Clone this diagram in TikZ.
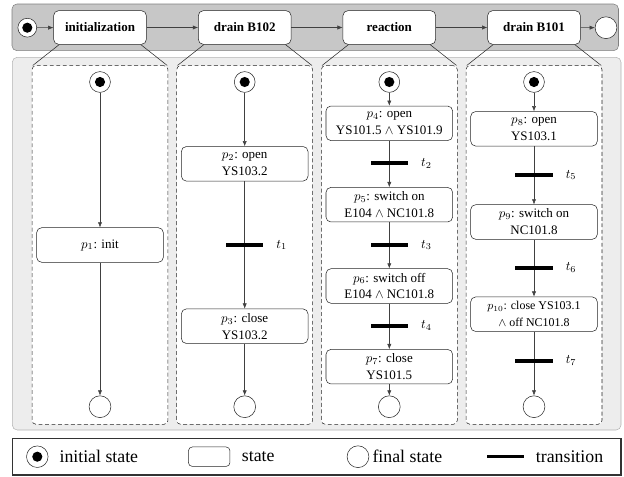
\documentclass[tikz,border=0pt]{standalone}
\usepackage{fontspec}
\setmainfont{Liberation Serif}
\usetikzlibrary{arrows.meta}

\begin{document}
\begin{tikzpicture}[x=0.77pt,y=-0.77pt,
	font=\fontsize{10}{13}\selectfont,
	phase/.style={draw=black!85,fill=white,rounded corners=3.8pt,minimum width=71.4pt,minimum height=25.9pt,inner sep=0pt,font=\bfseries},
	place/.style={draw=black!85,fill=white,rounded corners=3.8pt,minimum width=97.5pt,minimum height=26.6pt,inner sep=0pt,align=center},
	start/.style={circle,draw=black!85,fill=white,minimum size=16pt,inner sep=0pt,path picture={\fill[black] (path picture bounding box.center) circle (3.9pt);}},
	stop/.style={circle,draw=black!85,fill=white,minimum size=16.8pt,inner sep=0pt},
	trans/.style={fill=black,minimum width=28.5pt,minimum height=2.8pt,inner sep=0pt,label={[label distance=6.5pt]right:#1}},
	panel/.style={draw=black!85,dash pattern=on 3pt off 2pt,fill=white,rounded corners=3pt,minimum width=104.7pt,minimum height=276.1pt,inner sep=0pt},
	arr/.style={draw=black!75,-{Latex[length=4pt,width=3.2pt]}},
	legtext/.style={anchor=west,inner sep=0pt,font=\fontsize{13.7}{16}\selectfont}
]
	\useasboundingbox (0,0) rectangle (624,477);
	\filldraw[fill=black!22,draw=black!50,rounded corners=3.8pt] (12,4) rectangle (618.5,50.7);
	\filldraw[fill=black!7,draw=black!30,rounded corners=3.8pt] (12.3,57.3) rectangle (621,430);
	\foreach \c/\name [count=\k] in {100/initialization,244.7/drain B102,389.3/reaction,534/drain B101} {
		\node[panel] (pan\k) at (\c,245) {};
		\node[phase] (ph\k) at (\c,27.5) {\name};
		\draw[black!85] ([xshift=4.5pt]ph\k.south west) -- ([xshift=0.8pt]pan\k.north west);
		\draw[black!85] ([xshift=-4.5pt]ph\k.south east) -- ([xshift=-0.8pt]pan\k.north east);
		\node[start] (s\k) at (\c,82) {};
		\node[stop] (e\k) at (\c,406.7) {};
	}
	\node[start,minimum size=14.5pt] (s0) at (27.3,27.7) {};
	\node[stop] (e0) at (606,27.7) {};
	\foreach \a/\b in {s0/ph1,ph1/ph2,ph2/ph3,ph3/ph4,ph4/e0}
		\draw[arr] (\a) -- (\b);

	\node[place] (p1) at (100,245) {$p_1$: init};
	\draw[arr] (s1) -- (p1);
	\draw[arr] (p1) -- (e1);

	\node[place] (p2) at (244.7,163.8) {$p_2$: open\\YS103.2};
	\node[trans=$t_1$] (t1) at (244.7,245) {};
	\node[place] (p3) at (244.7,326.2) {$p_3$: close\\YS103.2};
	\draw[arr] (s2) -- (p2);
	\draw[arr] (p2) -- (t1) -- (p3);
	\draw[arr] (p3) -- (e2);

	\node[place] (p4) at (389.3,123.3) {$p_4$: open\\YS101.5 $\wedge$ YS101.9};
	\node[trans=$t_2$] (t2) at (389.3,163.3) {};
	\node[place] (p5) at (389.3,204.7) {$p_5$: switch on\\E104 $\wedge$ NC101.8};
	\node[trans=$t_3$] (t3) at (389.3,245) {};
	\node[place] (p6) at (389.3,286) {$p_6$: switch off\\E104 $\wedge$ NC101.8};
	\node[trans=$t_4$] (t4) at (389.3,325.7) {};
	\node[place] (p7) at (389.3,366.7) {$p_7$: close\\YS101.5};
	\draw[arr] (s3) -- (p4);
	\draw[arr] (p4) -- (t2) -- (p5);
	\draw[arr] (p5) -- (t3) -- (p6);
	\draw[arr] (p6) -- (t4) -- (p7);
	\draw[arr] (p7) -- (e3);

	\node[place] (p8) at (534,128.8) {$p_8$: open\\YS103.1};
	\node[trans=$t_5$] (t5) at (534,175) {};
	\node[place] (p9) at (534,222) {$p_9$: switch on\\NC101.8};
	\node[trans=$t_6$] (t6) at (534,267.7) {};
	\node[place,font=\fontsize{9.2}{13}\selectfont] (p10) at (534,314.2) {$p_{10}$: close YS103.1\\$\wedge$ off NC101.8};
	\node[trans=$t_7$] (t7) at (534,360.7) {};
	\draw[arr] (s4) -- (p8);
	\draw[arr] (p8) -- (t5) -- (p9);
	\draw[arr] (p9) -- (t6) -- (p10);
	\draw[arr] (p10) -- (t7) -- (e4);

	\draw[black!80,line width=1pt] (12.3,438.3) rectangle (621,475);
	\node[start,minimum size=16.6pt] (lgs) at (37.3,456.7) {};
	\node[legtext] (lgst) at (59.3,456.7) {initial state};
	\node[draw=black!85,rounded corners=3pt,minimum width=32pt,minimum height=15pt,inner sep=0pt] (lgp) at (209.2,456.7) {};
	\node[legtext] (lgpt) at (241.7,456.7) {state};
	\node[stop] (lge) at (358,456.7) {};
	\node[legtext] (lget) at (372.3,456.7) {final state};
	\node[fill=black,minimum width=28.7pt,minimum height=2.6pt,inner sep=0pt] (lgt) at (505.3,456.7) {};
	\node[legtext] (lgtt) at (535.7,456.7) {transition};
\end{tikzpicture}
\end{document}
